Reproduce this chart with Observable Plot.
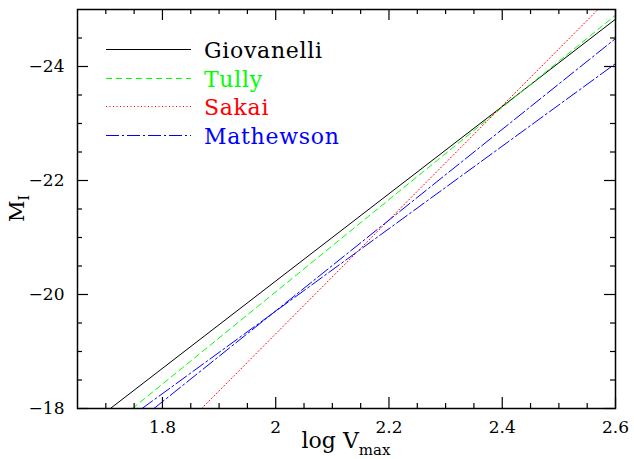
<!DOCTYPE html>
<html><head><meta charset="utf-8">
<script src="https://cdn.jsdelivr.net/npm/d3@7"></script>
<script src="https://cdn.jsdelivr.net/npm/@observablehq/plot@0.6"></script>
<style>body{margin:0;background:#fff}</style>
</head><body><div id="chart"></div>
<script>
// Tick values
const xMajorTicks = [1.8, 2.0, 2.2, 2.4, 2.6];
const xMinorTicks = [1.7, 1.75, 1.85, 1.9, 1.95, 2.05, 2.1, 2.15, 2.25, 2.3, 2.35, 2.45, 2.5, 2.55];
const yMajorTicks = [-18, -20, -22, -24];
const yMinorTicks = [-18.5, -19, -19.5, -20.5, -21, -21.5, -22.5, -23, -23.5, -24.5];

// Series (endpoints of the Tully–Fisher relations)
const seriesNames = ["Giovanelli", "Tully", "Sakai", "Mathewson"];
const seriesColors = ["#000000", "#00ff00", "#ff0000", "#0000ff"];
const seriesDash = [null, "6,4", "1,2.5", "13,3,2,3"];
const giovanelliX = [1.708, 2.6];
const giovanelliY = [-18, -24.83];
const tullyX = [1.747, 2.6];
const tullyY = [-18, -24.9];
const sakaiX = [1.869, 2.569];
const sakaiY = [-18, -25];
const mathewsonAX = [1.764, 2.6];
const mathewsonAY = [-18, -24.05];
const mathewsonBX = [1.785, 2.6];
const mathewsonBY = [-18, -24.49];

const xDomain = [1.65, 2.6];
const yDomain = [-18, -25];

const W = 634, H = 459, ML = 77, MR = 19, MT = 9, MB = 51;
const frameW = W - ML - MR, frameH = H - MT - MB;

const toRows = (xs, ys, s, g) => xs.map((x, i) => ({x, y: ys[i], series: s, group: g}));
const lineSets = [
  toRows(giovanelliX, giovanelliY, 0, "G"),
  toRows(tullyX, tullyY, 1, "T"),
  toRows(sakaiX, sakaiY, 2, "S"),
  toRows(mathewsonAX, mathewsonAY, 3, "MA").concat(toRows(mathewsonBX, mathewsonBY, 3, "MB"))
];

const fmt = d => String(d).replace("-", "\u2212");
const FONT = "DejaVu Serif";

// inward tick marks built from Plot rules with insets
const tickStyle = {stroke: "black", strokeWidth: 1.2};
const inwardTicks = (len, xt, yt) => [
  Plot.ruleX(xt, {x: d => d, insetTop: frameH - len, ...tickStyle}),
  Plot.ruleX(xt, {x: d => d, insetBottom: frameH - len, ...tickStyle}),
  Plot.ruleY(yt, {y: d => d, insetRight: frameW - len, ...tickStyle}),
  Plot.ruleY(yt, {y: d => d, insetLeft: frameW - len, ...tickStyle})
];

// legend and axis titles
const decorMark = (index, scales, values, dim) => {
  const root = d3.create("svg:g");
  const L = dim.marginLeft, R = dim.width - dim.marginRight;
  const T = dim.marginTop, B = dim.height - dim.marginBottom;

  const lg = root.append("g").attr("text-anchor", "start");
  seriesNames.forEach((name, i) => {
    const yy = Math.round(T + 40 + i * 28.5) + 0.5;
    lg.append("line")
      .attr("x1", L + 29).attr("x2", L + 114)
      .attr("y1", yy).attr("y2", yy)
      .attr("stroke", seriesColors[i])
      .attr("stroke-width", 1)
      .attr("stroke-dasharray", seriesDash[i]);
    lg.append("text")
      .attr("x", L + 127).attr("y", yy + 8)
      .attr("text-anchor", "start")
      .attr("fill", seriesColors[i])
      .attr("font-family", FONT)
      .attr("font-size", 22)
      .attr("letter-spacing", "0.7px")
      .text(name);
  });

  const tg = root.append("g").attr("font-family", FONT).attr("fill", "black");
  const cx = (L + R) / 2, cy = (T + B) / 2;
  const xl = tg.append("text").attr("x", cx).attr("y", dim.height - 11)
    .attr("text-anchor", "middle").attr("font-size", 22);
  xl.append("tspan").text("log V");
  xl.append("tspan").attr("font-size", 15).attr("dy", 7).text("max");
  const yl = tg.append("text")
    .attr("transform", `translate(24,${cy}) rotate(-90)`)
    .attr("text-anchor", "middle").attr("font-size", 21);
  yl.append("tspan").text("M");
  yl.append("tspan").attr("font-size", 14).attr("dy", 5).text("I");
  return root.node();
};

const chart = Plot.plot({
  width: W,
  height: H,
  marginLeft: ML,
  marginRight: MR,
  marginTop: MT,
  marginBottom: MB,
  x: {domain: xDomain},
  y: {domain: yDomain},
  style: {fontFamily: FONT, fontSize: "17px", color: "black", background: "white"},
  marks: [
    ...lineSets.map((rows, i) => Plot.line(rows, {
      x: "x", y: "y", z: "group",
      stroke: seriesColors[i], strokeWidth: 1,
      strokeDasharray: seriesDash[i] ?? undefined
    })),
    Plot.axisX(xMajorTicks, {anchor: "bottom", tickSize: 0, tickPadding: 12, tickFormat: fmt, label: null, fontSize: 17}),
    Plot.axisY(yMajorTicks, {anchor: "left", tickSize: 0, tickPadding: 13, tickFormat: fmt, label: null, fontSize: 17}),
    ...inwardTicks(11, xMajorTicks, yMajorTicks),
    ...inwardTicks(5, xMinorTicks, yMinorTicks),
    Plot.frame({stroke: "black", strokeWidth: 1.5}),
    decorMark
  ]
});
document.getElementById("chart").appendChild(chart);
</script>
</body></html>
